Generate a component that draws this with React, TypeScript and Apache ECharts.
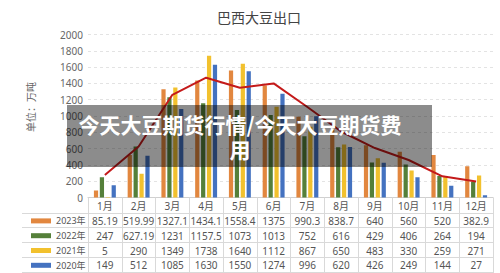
import React, { useEffect, useRef } from "react";
import * as echarts from "echarts";

const months = ["1月", "2月", "3月", "4月", "5月", "6月", "7月", "8月", "9月", "10月", "11月", "12月"];
const seriesNames = ["2023年", "2022年", "2021年", "2020年"];
const s2023 = [85.19, 519.99, 1327.1, 1434.1, 1558.4, 1375, 990.3, 838.7, 640, 560, 520, 382.9];
const s2022 = [247, 627.19, 1231, 1157.5, 1073, 1013, 752, 616, 429, 406, 264, 194];
const s2021 = [5, 290, 1349, 1738, 1640, 1112, 867, 650, 483, 330, 259, 271];
const s2020 = [149, 512, 1085, 1630, 1550, 1274, 996, 620, 426, 249, 144, 27];
const trend = [276, 625, 1260, 1470, 1347, 1400, 1110, 810, 607, 460, 260, 196];
const yTicks = { min: 0, max: 2000, interval: 200 };

const W = 500;
const H = 273;
const GRID_LEFT = 88;
const GRID_RIGHT = 7;
const GRID_TOP = 34.5;
const GRID_BOTTOM = 75.5;
const HEADER_H = 16;
const ROW_H = 14.8;

export default function App() {
  const ref = useRef<HTMLDivElement>(null);
  useEffect(() => {
    if (!ref.current) return;
    const chart = echarts.init(ref.current, null, { renderer: "svg" });
    const colors = ["#E2873F", "#55803A", "#F2C12E", "#4472C0"];
    const data = [s2023, s2022, s2021, s2020];
    const axisY = H - GRID_BOTTOM;
    const firstLine = axisY + HEADER_H;
    const rowLines: any[] = [];
    for (let k = 0; k <= 4; k++) {
      const y = Math.round(firstLine + ROW_H * k) - 0.5;
      rowLines.push({
        type: "line",
        z: 5,
        silent: true,
        shape: { x1: 22, y1: y, x2: W - GRID_RIGHT, y2: y },
        style: { stroke: "#d9d9d9", lineWidth: 1 },
      });
    }
    const option: any = {
      animation: false,
      backgroundColor: "#fff",
      title: {
        text: "巴西大豆出口",
        left: 212,
        top: 5,
        textStyle: { fontSize: 14, fontWeight: "normal", color: "#444", fontFamily: "Noto Sans CJK SC" },
      },
      legend: {
        data: seriesNames,
        orient: "vertical",
        left: 31,
        top: firstLine,
        padding: 0,
        itemGap: 0,
        itemWidth: 20,
        itemHeight: 5,
        icon: "rect",
        textStyle: { fontSize: 9, color: "#555", lineHeight: ROW_H, fontFamily: "Noto Sans, Noto Sans CJK SC" },
      },
      grid: { left: GRID_LEFT, right: GRID_RIGHT, top: GRID_TOP, bottom: GRID_BOTTOM, containLabel: false },
      xAxis: {
        type: "category",
        data: months,
        axisLine: { lineStyle: { color: "#d0d0d0" } },
        axisTick: { show: true, interval: 0, length: H - axisY, lineStyle: { color: "#d9d9d9" } },
        axisLabel: {
          interval: 0,
          margin: 0,
          verticalAlign: "top",
          formatter: (v: string, i: number) =>
            `{m|${v}}\n{v|${s2023[i]}}\n{v|${s2022[i]}}\n{v|${s2021[i]}}\n{v|${s2020[i]}}`,
          rich: {
            m: { fontSize: 10, lineHeight: HEADER_H, color: "#555", fontFamily: "Noto Sans, Noto Sans CJK SC" },
            v: { fontSize: 10, lineHeight: ROW_H, color: "#555", fontFamily: "Noto Sans" },
          },
        },
      },
      yAxis: {
        type: "value",
        min: yTicks.min,
        max: yTicks.max,
        interval: yTicks.interval,
        axisLine: { show: false },
        axisTick: { show: false },
        axisLabel: {
          fontSize: 10,
          color: "#666",
          margin: 5,
          fontFamily: "Noto Sans",
          formatter: (v: number) => String(v),
        },
        splitLine: { lineStyle: { color: "#e3e3e3", type: [3, 3] } },
      },
      series: [
        ...seriesNames.map((name, i) => ({
          name,
          type: "bar",
          data: data[i],
          itemStyle: { color: colors[i] },
          barGap: "40%",
          barCategoryGap: "35%",
        })),
        {
          name: "趋势",
          type: "line",
          data: trend,
          symbol: "none",
          z: 4,
          lineStyle: { color: "#C41A1A", width: 2 },
        },
      ],
      graphic: [
        {
          type: "text",
          x: 30,
          y: 107,
          rotation: Math.PI / 2,
          z: 10,
          style: {
            text: "单位：万吨",
            fill: "#666",
            fontSize: 10,
            fontFamily: "Noto Sans CJK SC",
            align: "center",
            verticalAlign: "middle",
          },
        },
        ...rowLines,
        {
          type: "rect",
          z: 100,
          silent: true,
          shape: { x: 67, y: 105, width: 365, height: 62 },
          style: { fill: "rgba(0,0,0,0.45)" },
        },
        {
          type: "text",
          z: 101,
          x: 240,
          y: 136,
          silent: true,
          style: {
            text: "今天大豆期货行情/今天大豆期货费\n用",
            fill: "#fff",
            fontSize: 21,
            fontWeight: "bold",
            lineHeight: 25,
            fontFamily: "Noto Sans CJK SC",
            align: "center",
            verticalAlign: "middle",
          },
        },
      ],
    };
    chart.setOption(option);
    return () => chart.dispose();
  }, []);
  return (
    <div
      ref={ref}
      style={{ position: "fixed", left: 0, top: 0, width: W, height: H, background: "#fff" }}
    />
  );
}
